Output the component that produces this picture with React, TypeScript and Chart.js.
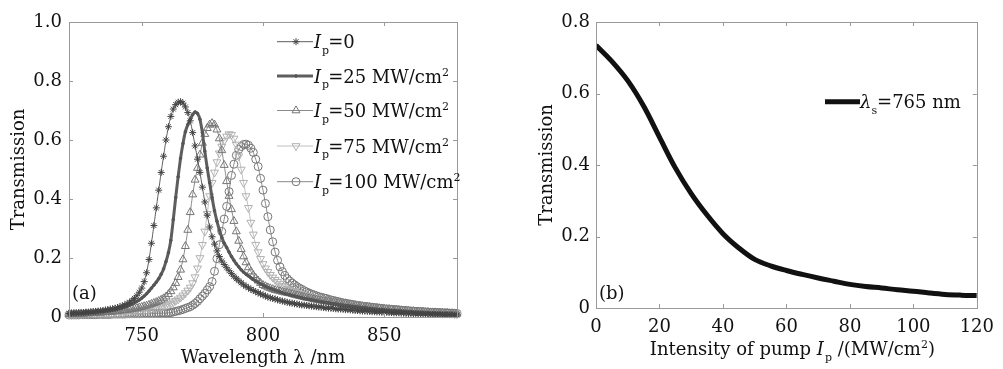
import React, { useEffect, useRef } from 'react';
import { Chart, registerables } from 'chart.js';
import { drawPoint } from 'chart.js/helpers';

Chart.register(...registerables);

const FONT = "'DejaVu Serif', serif";

// ---------- Panel (a): transmission spectra ----------
const wavelengths = Array.from({ length: 161 }, (_, i) => 720 + i); // 720..880 nm, 1 nm grid
const pumpLevels = [0, 25, 50, 75, 100];
const xTicksA = [750, 800, 850];

const tIp0 = [
  0.012, 0.012, 0.013, 0.013, 0.014, 0.014, 0.015, 0.016, 0.016, 0.017,
  0.018, 0.019, 0.020, 0.021, 0.022, 0.024, 0.025, 0.027, 0.028, 0.030,
  0.032, 0.035, 0.038, 0.041, 0.045, 0.050, 0.056, 0.063, 0.072, 0.084,
  0.098, 0.120, 0.150, 0.195, 0.250, 0.310, 0.370, 0.430, 0.490, 0.545,
  0.600, 0.645, 0.680, 0.705, 0.720, 0.728, 0.730, 0.725, 0.712, 0.693,
  0.665, 0.625, 0.580, 0.535, 0.490, 0.440, 0.390, 0.345, 0.305, 0.272,
  0.247, 0.224, 0.205, 0.190, 0.178, 0.167, 0.157, 0.147, 0.138, 0.130,
  0.123, 0.116, 0.109, 0.104, 0.099, 0.094, 0.090, 0.086, 0.082, 0.078,
  0.075, 0.071, 0.068, 0.065, 0.063, 0.061, 0.058, 0.056, 0.054, 0.052,
  0.050, 0.048, 0.047, 0.045, 0.044, 0.042, 0.041, 0.040, 0.039, 0.038,
  0.037, 0.036, 0.035, 0.034, 0.033, 0.032, 0.031, 0.030, 0.030, 0.029,
  0.028, 0.027, 0.027, 0.026, 0.025, 0.025, 0.024, 0.023, 0.022, 0.022,
  0.021, 0.020, 0.020, 0.019, 0.019, 0.018, 0.018, 0.017, 0.017, 0.016,
  0.016, 0.016, 0.015, 0.015, 0.014, 0.014, 0.014, 0.013, 0.013, 0.012,
  0.012, 0.012, 0.012, 0.011, 0.011, 0.011, 0.010, 0.010, 0.010, 0.009,
  0.009, 0.009, 0.009, 0.009, 0.008, 0.008, 0.008, 0.008, 0.008, 0.007,
  0.007,
];

const tIp25 = [
  0.010, 0.010, 0.011, 0.011, 0.012, 0.012, 0.013, 0.013, 0.014, 0.015,
  0.015, 0.016, 0.017, 0.018, 0.019, 0.020, 0.021, 0.022, 0.024, 0.025,
  0.027, 0.029, 0.031, 0.034, 0.037, 0.040, 0.044, 0.048, 0.053, 0.058,
  0.064, 0.071, 0.079, 0.088, 0.098, 0.108, 0.118, 0.130, 0.145, 0.163,
  0.188, 0.218, 0.260, 0.330, 0.405, 0.475, 0.538, 0.588, 0.628, 0.652,
  0.670, 0.686, 0.695, 0.690, 0.670, 0.625, 0.562, 0.505, 0.455, 0.405,
  0.360, 0.325, 0.295, 0.270, 0.250, 0.236, 0.220, 0.205, 0.192, 0.180,
  0.170, 0.160, 0.152, 0.145, 0.139, 0.133, 0.127, 0.122, 0.117, 0.112,
  0.108, 0.104, 0.100, 0.097, 0.094, 0.091, 0.088, 0.085, 0.082, 0.079,
  0.077, 0.075, 0.073, 0.071, 0.069, 0.067, 0.065, 0.063, 0.061, 0.060,
  0.058, 0.056, 0.055, 0.053, 0.052, 0.050, 0.049, 0.048, 0.046, 0.045,
  0.044, 0.043, 0.041, 0.040, 0.039, 0.038, 0.037, 0.036, 0.035, 0.034,
  0.033, 0.032, 0.031, 0.030, 0.029, 0.028, 0.027, 0.026, 0.025, 0.025,
  0.024, 0.023, 0.023, 0.022, 0.022, 0.021, 0.020, 0.020, 0.019, 0.019,
  0.018, 0.017, 0.017, 0.016, 0.016, 0.015, 0.015, 0.014, 0.014, 0.013,
  0.013, 0.013, 0.012, 0.012, 0.011, 0.011, 0.011, 0.010, 0.010, 0.010,
  0.009,
];

const tIp50 = [
  0.009, 0.010, 0.010, 0.010, 0.011, 0.011, 0.011, 0.012, 0.012, 0.013,
  0.013, 0.014, 0.014, 0.015, 0.015, 0.016, 0.017, 0.017, 0.018, 0.019,
  0.020, 0.021, 0.022, 0.023, 0.024, 0.025, 0.027, 0.028, 0.030, 0.032,
  0.034, 0.036, 0.038, 0.041, 0.044, 0.047, 0.050, 0.054, 0.058, 0.063,
  0.069, 0.077, 0.087, 0.100, 0.115, 0.135, 0.160, 0.195, 0.240, 0.295,
  0.355, 0.415, 0.465, 0.505, 0.550, 0.590, 0.620, 0.640, 0.652, 0.657,
  0.652, 0.635, 0.605, 0.565, 0.515, 0.460, 0.410, 0.365, 0.325, 0.290,
  0.258, 0.230, 0.205, 0.185, 0.168, 0.154, 0.142, 0.132, 0.123, 0.115,
  0.108, 0.104, 0.100, 0.097, 0.094, 0.091, 0.089, 0.087, 0.085, 0.083,
  0.082, 0.080, 0.078, 0.075, 0.073, 0.071, 0.069, 0.067, 0.065, 0.064,
  0.062, 0.060, 0.059, 0.057, 0.056, 0.054, 0.053, 0.052, 0.050, 0.049,
  0.048, 0.047, 0.045, 0.044, 0.043, 0.042, 0.041, 0.040, 0.039, 0.038,
  0.037, 0.036, 0.035, 0.034, 0.033, 0.032, 0.031, 0.030, 0.029, 0.028,
  0.027, 0.026, 0.026, 0.025, 0.024, 0.024, 0.023, 0.022, 0.021, 0.021,
  0.020, 0.019, 0.019, 0.018, 0.018, 0.017, 0.017, 0.016, 0.016, 0.015,
  0.015, 0.015, 0.014, 0.014, 0.014, 0.013, 0.013, 0.012, 0.012, 0.012,
  0.011,
];

const tIp75 = [
  0.008, 0.008, 0.009, 0.009, 0.009, 0.009, 0.010, 0.010, 0.010, 0.011,
  0.011, 0.011, 0.012, 0.012, 0.012, 0.013, 0.013, 0.014, 0.014, 0.015,
  0.015, 0.016, 0.016, 0.017, 0.018, 0.018, 0.019, 0.020, 0.021, 0.022,
  0.023, 0.024, 0.025, 0.026, 0.028, 0.029, 0.031, 0.033, 0.035, 0.037,
  0.040, 0.043, 0.046, 0.050, 0.055, 0.060, 0.066, 0.073, 0.081, 0.090,
  0.100, 0.115, 0.135, 0.165, 0.200, 0.245, 0.290, 0.350, 0.410, 0.455,
  0.490, 0.525, 0.555, 0.578, 0.598, 0.612, 0.620, 0.618, 0.605, 0.585,
  0.545, 0.500, 0.455, 0.410, 0.370, 0.320, 0.280, 0.245, 0.220, 0.197,
  0.180, 0.165, 0.153, 0.143, 0.134, 0.126, 0.119, 0.112, 0.106, 0.101,
  0.096, 0.092, 0.088, 0.085, 0.082, 0.080, 0.077, 0.074, 0.072, 0.070,
  0.068, 0.066, 0.064, 0.062, 0.061, 0.059, 0.057, 0.056, 0.055, 0.053,
  0.052, 0.050, 0.049, 0.047, 0.046, 0.045, 0.044, 0.043, 0.042, 0.041,
  0.040, 0.039, 0.037, 0.036, 0.035, 0.034, 0.033, 0.032, 0.031, 0.031,
  0.030, 0.029, 0.028, 0.027, 0.027, 0.026, 0.025, 0.024, 0.024, 0.023,
  0.022, 0.022, 0.021, 0.020, 0.020, 0.019, 0.019, 0.018, 0.018, 0.017,
  0.016, 0.016, 0.016, 0.015, 0.015, 0.014, 0.014, 0.013, 0.013, 0.013,
  0.012,
];

const tIp100 = [
  0.007, 0.007, 0.007, 0.007, 0.007, 0.008, 0.008, 0.008, 0.008, 0.008,
  0.008, 0.008, 0.009, 0.009, 0.009, 0.009, 0.009, 0.009, 0.010, 0.010,
  0.010, 0.010, 0.010, 0.010, 0.011, 0.011, 0.011, 0.011, 0.011, 0.011,
  0.012, 0.012, 0.012, 0.012, 0.012, 0.012, 0.012, 0.013, 0.013, 0.013,
  0.013, 0.014, 0.015, 0.017, 0.019, 0.021, 0.023, 0.026, 0.029, 0.032,
  0.035, 0.040, 0.046, 0.053, 0.062, 0.071, 0.080, 0.092, 0.103, 0.120,
  0.155, 0.198, 0.245, 0.290, 0.332, 0.375, 0.425, 0.480, 0.518, 0.548,
  0.568, 0.578, 0.585, 0.586, 0.582, 0.572, 0.558, 0.535, 0.510, 0.470,
  0.430, 0.385, 0.340, 0.295, 0.255, 0.220, 0.192, 0.170, 0.154, 0.141,
  0.130, 0.122, 0.115, 0.109, 0.103, 0.098, 0.094, 0.089, 0.085, 0.081,
  0.078, 0.075, 0.072, 0.069, 0.067, 0.065, 0.063, 0.060, 0.058, 0.056,
  0.054, 0.052, 0.050, 0.048, 0.047, 0.045, 0.044, 0.042, 0.041, 0.039,
  0.038, 0.037, 0.036, 0.035, 0.034, 0.033, 0.032, 0.031, 0.030, 0.029,
  0.028, 0.027, 0.027, 0.026, 0.025, 0.025, 0.024, 0.023, 0.022, 0.022,
  0.021, 0.020, 0.020, 0.019, 0.019, 0.018, 0.018, 0.017, 0.017, 0.016,
  0.016, 0.016, 0.015, 0.015, 0.014, 0.014, 0.014, 0.013, 0.013, 0.012,
  0.012,
];

const spectra = [tIp0, tIp25, tIp50, tIp75, tIp100];

// ---------- Panel (b): transmission vs pump ----------
const pumpIntensity = [0, 5, 10, 15, 20, 25, 30, 35, 40, 45, 50, 55, 60, 65, 70, 75, 80, 85, 90, 95, 100, 105, 110, 115, 120];
const transAt765 = [
  0.735, 0.690, 0.636, 0.565, 0.478, 0.392, 0.320, 0.260, 0.208, 0.168,
  0.136, 0.118, 0.105, 0.094, 0.084, 0.075, 0.066, 0.060, 0.056, 0.051,
  0.047, 0.042, 0.038, 0.036, 0.035,
];

// ---------- styles ----------
const seriesStyles = [
  { point: 'star', rot: 0, r: 3.5, marker: '#444444', line: '#5e5e5e', width: 1, fill: 'transparent' },
  { point: 'circle', rot: 0, r: 1.3, marker: '#555555', line: '#5e5e5e', width: 3, fill: '#555555' },
  { point: 'triangle', rot: 0, r: 4.6, marker: '#767676', line: '#8a8a8a', width: 1, fill: 'transparent' },
  { point: 'triangle', rot: 180, r: 4.6, marker: '#b0b0b0', line: '#c0c0c0', width: 1, fill: 'transparent' },
  { point: 'circle', rot: 0, r: 4, marker: '#767676', line: '#8a8a8a', width: 1, fill: 'transparent' },
];

type Part = { t: string; it?: boolean; sub?: boolean; sup?: boolean; kern?: number };

function richWidth(ctx: CanvasRenderingContext2D, parts: Part[], size: number) {
  let w = 0;
  for (const p of parts) {
    const fs = p.sub || p.sup ? Math.round(size * 0.62) : size;
    ctx.font = `${p.it ? 'italic ' : ''}${fs}px ${FONT}`;
    w += ctx.measureText(p.t).width + (p.kern || 0);
  }
  return w;
}

function drawRich(ctx: CanvasRenderingContext2D, x: number, y: number, parts: Part[], size: number, color: string) {
  ctx.save();
  ctx.fillStyle = color;
  ctx.textAlign = 'left';
  ctx.textBaseline = 'alphabetic';
  let cx = x;
  for (const p of parts) {
    const fs = p.sub || p.sup ? Math.round(size * 0.62) : size;
    ctx.font = `${p.it ? 'italic ' : ''}${fs}px ${FONT}`;
    const dy = p.sub ? size * 0.32 : p.sup ? -size * 0.38 : 0;
    ctx.fillText(p.t, cx, y + dy);
    cx += ctx.measureText(p.t).width + (p.kern || 0);
  }
  ctx.restore();
}

const framePlugin = {
  id: 'frame',
  afterDraw(chart: any) {
    const { ctx, chartArea: a, scales } = chart;
    ctx.save();
    ctx.strokeStyle = '#9a9a9a';
    ctx.lineWidth = 1;
    ctx.strokeRect(Math.round(a.left) + 0.5, Math.round(a.top) + 0.5, Math.round(a.right - a.left), Math.round(a.bottom - a.top));
    const L = 4;
    ctx.beginPath();
    for (const t of scales.x.ticks) {
      const px = Math.round(scales.x.getPixelForValue(t.value)) + 0.5;
      ctx.moveTo(px, a.bottom); ctx.lineTo(px, a.bottom - L);
      ctx.moveTo(px, a.top); ctx.lineTo(px, a.top + L);
    }
    for (const t of scales.y.ticks) {
      const py = Math.round(scales.y.getPixelForValue(t.value)) + 0.5;
      ctx.moveTo(a.left, py); ctx.lineTo(a.left + L, py);
      ctx.moveTo(a.right, py); ctx.lineTo(a.right - L, py);
    }
    ctx.stroke();
    ctx.restore();
  },
};

const legendA = {
  id: 'legendA',
  afterDraw(chart: any) {
    const ctx: CanvasRenderingContext2D = chart.ctx;
    const rows = [41.7, 76, 110.5, 146, 181.7];
    pumpLevels.forEach((lvl, i) => {
      const s = seriesStyles[i];
      const y = rows[i];
      ctx.save();
      ctx.strokeStyle = s.line;
      ctx.lineWidth = s.width;
      ctx.beginPath();
      ctx.moveTo(277, y); ctx.lineTo(313, y);
      ctx.stroke();
      ctx.strokeStyle = s.marker;
      ctx.fillStyle = s.fill;
      ctx.lineWidth = 1;
      drawPoint(ctx, { pointStyle: s.point, rotation: s.rot, radius: s.r, borderWidth: 1 } as any, 296, y);
      ctx.restore();
      const parts: Part[] = [
        { t: 'I', it: true, kern: 1 },
        { t: 'p', sub: true, kern: -1 },
        { t: lvl === 0 ? '=0' : `=${lvl} MW/cm` },
      ];
      if (lvl !== 0) parts.push({ t: '2', sup: true });
      drawRich(ctx, 314, y + 6.5, parts, 18, '#111');
    });
    drawRich(ctx, 72, 299, [{ t: '(a)' }], 18, '#111');
  },
};

const legendB = {
  id: 'legendB',
  afterDraw(chart: any) {
    const ctx: CanvasRenderingContext2D = chart.ctx;
    const y = 101.7;
    ctx.save();
    ctx.strokeStyle = '#111';
    ctx.lineWidth = 5;
    ctx.beginPath();
    ctx.moveTo(325, y); ctx.lineTo(360, y);
    ctx.stroke();
    ctx.restore();
    drawRich(ctx, 360, y + 6.6, [
      { t: 'λ', it: true, kern: 0 },
      { t: 's', sub: true, kern: 0 },
      { t: '=765 nm' },
    ], 18, '#111');
    drawRich(ctx, 99, 299, [{ t: '(b)' }], 18, '#111');
    const title: Part[] = [
      { t: 'Intensity of pump ' },
      { t: 'I', it: true, kern: 1 },
      { t: 'p', sub: true },
      { t: ' /(MW/cm' },
      { t: '2', sup: true },
      { t: ')' },
    ];
    const a = chart.chartArea;
    const w = richWidth(ctx, title, 18);
    drawRich(ctx, (a.left + a.right) / 2 + 6 - w / 2, 355, title, 18, '#111');
  },
};

const tickFont = { family: FONT, size: 18 };

function fmt(v: number) {
  return Math.abs(v) < 1e-9 ? '0' : v.toFixed(1);
}

export default function App() {
  const leftRef = useRef<HTMLCanvasElement>(null);
  const rightRef = useRef<HTMLCanvasElement>(null);

  useEffect(() => {
    const datasets = spectra.map((vals, i) => {
      const s = seriesStyles[i];
      return {
        label: `Ip=${pumpLevels[i]}`,
        data: wavelengths.map((w, k) => ({ x: w, y: vals[k] })),
        borderColor: s.line,
        borderWidth: s.width,
        pointStyle: s.point,
        pointRotation: s.rot,
        pointRadius: s.r,
        pointBorderColor: s.marker,
        pointBackgroundColor: s.fill,
        pointBorderWidth: 1,
        tension: 0.2,
        fill: false,
        clip: 6,
      };
    });

    const c1 = new Chart(leftRef.current!, {
      type: 'line',
      data: { datasets } as any,
      options: {
        responsive: false,
        animation: false,
        events: [],
        layout: { padding: { top: 22, right: 33, left: 0, bottom: 0 } },
        plugins: { legend: { display: false }, tooltip: { enabled: false } },
        scales: {
          x: {
            type: 'linear',
            min: 720,
            max: 880,
            afterBuildTicks: (s: any) => { s.ticks = xTicksA.map((v) => ({ value: v })); },
            afterFit: (s: any) => { s.height = 52; },
            grid: { display: false, drawTicks: false },
            border: { display: false },
            ticks: { font: tickFont, color: '#111', padding: 9, maxRotation: 0, callback: (v: any) => String(v) },
            title: { display: true, text: 'Wavelength λ /nm', font: tickFont, color: '#111', padding: { top: 0, bottom: 0 } },
          },
          y: {
            min: 0,
            max: 1,
            afterFit: (s: any) => { s.width = 69; },
            grid: { display: false, drawTicks: false },
            border: { display: false },
            ticks: { stepSize: 0.2, font: tickFont, color: '#111', padding: 7, callback: (v: any) => fmt(Number(v)) },
            title: { display: true, text: 'Transmission', font: tickFont, color: '#111', padding: { top: 9, bottom: 0 } },
          },
        },
      } as any,
      plugins: [framePlugin, legendA],
    });

    const c2 = new Chart(rightRef.current!, {
      type: 'line',
      data: {
        datasets: [
          {
            label: 'λs=765 nm',
            data: pumpIntensity.map((p, k) => ({ x: p, y: transAt765[k] })),
            borderColor: '#111',
            borderWidth: 5,
            pointRadius: 0,
            tension: 0.35,
            fill: false,
          },
        ],
      } as any,
      options: {
        responsive: false,
        animation: false,
        events: [],
        layout: { padding: { top: 22, right: 19, left: 0, bottom: 0 } },
        plugins: { legend: { display: false }, tooltip: { enabled: false } },
        scales: {
          x: {
            type: 'linear',
            min: 0,
            max: 120,
            afterFit: (s: any) => { s.height = 61; },
            grid: { display: false, drawTicks: false },
            border: { display: false },
            ticks: { stepSize: 20, font: tickFont, color: '#111', padding: 9, maxRotation: 0 },
          },
          y: {
            min: 0,
            max: 0.8,
            afterFit: (s: any) => { s.width = 96; },
            grid: { display: false, drawTicks: false },
            border: { display: false },
            ticks: { stepSize: 0.2, font: tickFont, color: '#111', padding: 6, callback: (v: any) => fmt(Number(v)) },
            title: { display: true, text: 'Transmission', font: tickFont, color: '#111', padding: { top: 37, bottom: 0 } },
          },
        },
      } as any,
      plugins: [framePlugin, legendB],
    });

    return () => {
      c1.destroy();
      c2.destroy();
    };
  }, []);

  return (
    <div style={{ position: 'fixed', left: 0, top: 0, width: 1003, height: 369, background: '#fff', overflow: 'hidden' }}>
      <canvas ref={leftRef} width={490} height={369} style={{ position: 'absolute', left: 0, top: 0 }} />
      <canvas ref={rightRef} width={503} height={369} style={{ position: 'absolute', left: 500, top: 0 }} />
    </div>
  );
}
